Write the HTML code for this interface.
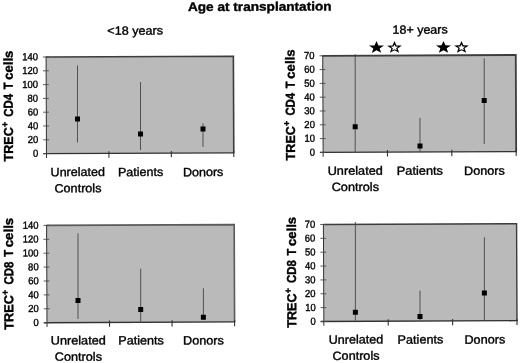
<!DOCTYPE html>
<html><head><meta charset="utf-8"><title>Age at transplantation</title>
<style>
html,body{margin:0;padding:0;background:#fff;}
svg{display:block;}
text{font-family:"Liberation Sans",sans-serif;fill:#000;}
</style></head>
<body>
<svg width="520" height="363" viewBox="0 0 520 363">
<rect width="520" height="363" fill="#fff"/>
<defs><filter id="soft" x="-2%" y="-2%" width="104%" height="104%"><feGaussianBlur stdDeviation="0.32"/></filter></defs>
<g filter="url(#soft)"><g transform="rotate(-0.24 260 181)">
<text x="188.71" y="10.80" font-size="12.4" font-weight="bold" textLength="143.6" lengthAdjust="spacingAndGlyphs" stroke="#000" stroke-width="0.38">Age at transplantation</text>
<text x="107.91" y="34.16" font-size="12" textLength="55.7" lengthAdjust="spacingAndGlyphs" stroke="#000" stroke-width="0.38">&lt;18 years</text>
<text x="393.12" y="34.36" font-size="12" textLength="55.2" lengthAdjust="spacingAndGlyphs" stroke="#000" stroke-width="0.38">18+ years</text>
<rect x="46.6" y="56.1" width="187.30" height="96.60" fill="#bababa"/>
<path d="M46.6 56.1H233.9V152.7" fill="none" stroke="#3c3c3c" stroke-width="1.6"/>
<path d="M46.6 55.6V157.0" fill="none" stroke="#333" stroke-width="1.0"/>
<path d="M43.4 152.7H234.5" fill="none" stroke="#303030" stroke-width="1.35"/>
<path d="M43.4 152.70H49.2" stroke="#4a4a4a" stroke-width="0.9" fill="none"/>
<text x="33.23" y="155.91" font-size="10.2" textLength="5.27" lengthAdjust="spacingAndGlyphs" stroke="#000" stroke-width="0.38">0</text>
<path d="M43.4 138.90H49.2" stroke="#4a4a4a" stroke-width="0.9" fill="none"/>
<text x="27.95" y="142.11" font-size="10.2" textLength="10.55" lengthAdjust="spacingAndGlyphs" stroke="#000" stroke-width="0.38">20</text>
<path d="M43.4 125.10H49.2" stroke="#4a4a4a" stroke-width="0.9" fill="none"/>
<text x="27.95" y="128.31" font-size="10.2" textLength="10.55" lengthAdjust="spacingAndGlyphs" stroke="#000" stroke-width="0.38">40</text>
<path d="M43.4 111.30H49.2" stroke="#4a4a4a" stroke-width="0.9" fill="none"/>
<text x="27.95" y="114.51" font-size="10.2" textLength="10.55" lengthAdjust="spacingAndGlyphs" stroke="#000" stroke-width="0.38">60</text>
<path d="M43.4 97.50H49.2" stroke="#4a4a4a" stroke-width="0.9" fill="none"/>
<text x="27.95" y="100.71" font-size="10.2" textLength="10.55" lengthAdjust="spacingAndGlyphs" stroke="#000" stroke-width="0.38">80</text>
<path d="M43.4 83.70H49.2" stroke="#4a4a4a" stroke-width="0.9" fill="none"/>
<text x="22.68" y="86.91" font-size="10.2" textLength="15.82" lengthAdjust="spacingAndGlyphs" stroke="#000" stroke-width="0.38">100</text>
<path d="M43.4 69.90H49.2" stroke="#4a4a4a" stroke-width="0.9" fill="none"/>
<text x="22.68" y="73.11" font-size="10.2" textLength="15.82" lengthAdjust="spacingAndGlyphs" stroke="#000" stroke-width="0.38">120</text>
<path d="M43.4 56.10H49.2" stroke="#4a4a4a" stroke-width="0.9" fill="none"/>
<text x="22.68" y="59.31" font-size="10.2" textLength="15.82" lengthAdjust="spacingAndGlyphs" stroke="#000" stroke-width="0.38">140</text>
<path d="M109.03 150.7V157.0" stroke="#303030" stroke-width="1.1" fill="none"/>
<path d="M171.47 150.7V157.0" stroke="#303030" stroke-width="1.1" fill="none"/>
<path d="M233.90 150.7V157.0" stroke="#303030" stroke-width="1.1" fill="none"/>
<g transform="translate(13.18 160.47) rotate(-90)" font-weight="bold" stroke="#000" stroke-width="0.4"><text x="0.00" y="0" font-size="13.0" textLength="34.3" lengthAdjust="spacingAndGlyphs">TREC</text><text x="34.50" y="-5.0" font-size="9.4" textLength="5.1" lengthAdjust="spacingAndGlyphs">+</text><text x="44.80" y="0" font-size="13.0" textLength="22.8" lengthAdjust="spacingAndGlyphs">CD4</text><text x="72.20" y="0" font-size="13.0" textLength="6.8" lengthAdjust="spacingAndGlyphs">T</text><text x="81.70" y="0" font-size="13.0" textLength="29.2" lengthAdjust="spacingAndGlyphs">cells</text></g>
<path d="M77.99 64.74L77.66 141.74" stroke="#454545" stroke-width="0.9" fill="none"/>
<rect x="75.26" y="115.74" width="5" height="5" fill="#000"/>
<path d="M140.92 81.50L140.63 149.50" stroke="#454545" stroke-width="0.9" fill="none"/>
<rect x="138.20" y="131.00" width="5" height="5" fill="#000"/>
<path d="M203.24 123.06L203.14 146.76" stroke="#454545" stroke-width="0.9" fill="none"/>
<rect x="200.72" y="126.16" width="5" height="5" fill="#000"/>
<text x="50.62" y="175.32" font-size="12" textLength="54.4" lengthAdjust="spacingAndGlyphs" stroke="#000" stroke-width="0.38">Unrelated</text>
<text x="54.45" y="191.54" font-size="12" textLength="47.0" lengthAdjust="spacingAndGlyphs" stroke="#000" stroke-width="0.38">Controls</text>
<text x="117.92" y="175.60" font-size="12" textLength="45.4" lengthAdjust="spacingAndGlyphs" stroke="#000" stroke-width="0.38">Patients</text>
<text x="182.92" y="175.88" font-size="12" textLength="40.5" lengthAdjust="spacingAndGlyphs" stroke="#000" stroke-width="0.38">Donors</text>
<rect x="323.25" y="56.05" width="193.05" height="96.60" fill="#bababa"/>
<path d="M323.25 56.05H516.3V152.65" fill="none" stroke="#3c3c3c" stroke-width="1.8"/>
<path d="M323.25 55.55V156.95000000000002" fill="none" stroke="#333" stroke-width="1.0"/>
<path d="M320.05 152.65H516.9" fill="none" stroke="#303030" stroke-width="1.35"/>
<path d="M320.05 152.65H325.85" stroke="#4a4a4a" stroke-width="0.9" fill="none"/>
<text x="309.88" y="155.86" font-size="10.2" textLength="5.27" lengthAdjust="spacingAndGlyphs" stroke="#000" stroke-width="0.38">0</text>
<path d="M320.05 138.85H325.85" stroke="#4a4a4a" stroke-width="0.9" fill="none"/>
<text x="304.60" y="142.06" font-size="10.2" textLength="10.55" lengthAdjust="spacingAndGlyphs" stroke="#000" stroke-width="0.38">10</text>
<path d="M320.05 125.05H325.85" stroke="#4a4a4a" stroke-width="0.9" fill="none"/>
<text x="304.60" y="128.26" font-size="10.2" textLength="10.55" lengthAdjust="spacingAndGlyphs" stroke="#000" stroke-width="0.38">20</text>
<path d="M320.05 111.25H325.85" stroke="#4a4a4a" stroke-width="0.9" fill="none"/>
<text x="304.60" y="114.46" font-size="10.2" textLength="10.55" lengthAdjust="spacingAndGlyphs" stroke="#000" stroke-width="0.38">30</text>
<path d="M320.05 97.45H325.85" stroke="#4a4a4a" stroke-width="0.9" fill="none"/>
<text x="304.60" y="100.66" font-size="10.2" textLength="10.55" lengthAdjust="spacingAndGlyphs" stroke="#000" stroke-width="0.38">40</text>
<path d="M320.05 83.65H325.85" stroke="#4a4a4a" stroke-width="0.9" fill="none"/>
<text x="304.60" y="86.86" font-size="10.2" textLength="10.55" lengthAdjust="spacingAndGlyphs" stroke="#000" stroke-width="0.38">50</text>
<path d="M320.05 69.85H325.85" stroke="#4a4a4a" stroke-width="0.9" fill="none"/>
<text x="304.60" y="73.06" font-size="10.2" textLength="10.55" lengthAdjust="spacingAndGlyphs" stroke="#000" stroke-width="0.38">60</text>
<path d="M320.05 56.05H325.85" stroke="#4a4a4a" stroke-width="0.9" fill="none"/>
<text x="304.60" y="59.26" font-size="10.2" textLength="10.55" lengthAdjust="spacingAndGlyphs" stroke="#000" stroke-width="0.38">70</text>
<path d="M387.60 150.65V156.95000000000002" stroke="#303030" stroke-width="1.1" fill="none"/>
<path d="M451.95 150.65V156.95000000000002" stroke="#303030" stroke-width="1.1" fill="none"/>
<path d="M516.30 150.65V156.95000000000002" stroke="#303030" stroke-width="1.1" fill="none"/>
<g transform="translate(295.09 160.55) rotate(-90)" font-weight="bold" stroke="#000" stroke-width="0.4"><text x="0.00" y="0" font-size="13.0" textLength="34.3" lengthAdjust="spacingAndGlyphs">TREC</text><text x="34.50" y="-5.0" font-size="9.4" textLength="5.1" lengthAdjust="spacingAndGlyphs">+</text><text x="44.80" y="0" font-size="13.0" textLength="22.8" lengthAdjust="spacingAndGlyphs">CD4</text><text x="72.20" y="0" font-size="13.0" textLength="6.8" lengthAdjust="spacingAndGlyphs">T</text><text x="81.70" y="0" font-size="13.0" textLength="29.2" lengthAdjust="spacingAndGlyphs">cells</text></g>
<path d="M355.73 54.60L355.32 152.40" stroke="#454545" stroke-width="0.9" fill="none"/>
<rect x="352.93" y="124.60" width="5" height="5" fill="#000"/>
<path d="M420.26 118.67L420.12 152.67" stroke="#454545" stroke-width="0.9" fill="none"/>
<rect x="417.65" y="144.17" width="5" height="5" fill="#000"/>
<path d="M484.71 59.24L484.35 144.94" stroke="#454545" stroke-width="0.9" fill="none"/>
<rect x="482.03" y="99.04" width="5" height="5" fill="#000"/>
<text x="327.72" y="175.18" font-size="12" textLength="55.1" lengthAdjust="spacingAndGlyphs" stroke="#000" stroke-width="0.38">Unrelated</text>
<text x="331.66" y="191.40" font-size="12" textLength="47.3" lengthAdjust="spacingAndGlyphs" stroke="#000" stroke-width="0.38">Controls</text>
<text x="396.82" y="175.47" font-size="12" textLength="46.2" lengthAdjust="spacingAndGlyphs" stroke="#000" stroke-width="0.38">Patients</text>
<text x="464.02" y="175.75" font-size="12" textLength="40.8" lengthAdjust="spacingAndGlyphs" stroke="#000" stroke-width="0.38">Donors</text>
<rect x="46.4" y="224.5" width="187.60" height="97.30" fill="#bababa"/>
<path d="M46.4 224.5H234.0V321.8" fill="none" stroke="#5a5a5a" stroke-width="1.6"/>
<path d="M46.4 224.0V326.1" fill="none" stroke="#333" stroke-width="1.0"/>
<path d="M43.199999999999996 321.8H234.6" fill="none" stroke="#303030" stroke-width="1.35"/>
<path d="M43.199999999999996 321.80H49.0" stroke="#4a4a4a" stroke-width="0.9" fill="none"/>
<text x="33.03" y="325.01" font-size="10.2" textLength="5.27" lengthAdjust="spacingAndGlyphs" stroke="#000" stroke-width="0.38">0</text>
<path d="M43.199999999999996 307.90H49.0" stroke="#4a4a4a" stroke-width="0.9" fill="none"/>
<text x="27.75" y="311.11" font-size="10.2" textLength="10.55" lengthAdjust="spacingAndGlyphs" stroke="#000" stroke-width="0.38">20</text>
<path d="M43.199999999999996 294.00H49.0" stroke="#4a4a4a" stroke-width="0.9" fill="none"/>
<text x="27.75" y="297.21" font-size="10.2" textLength="10.55" lengthAdjust="spacingAndGlyphs" stroke="#000" stroke-width="0.38">40</text>
<path d="M43.199999999999996 280.10H49.0" stroke="#4a4a4a" stroke-width="0.9" fill="none"/>
<text x="27.75" y="283.31" font-size="10.2" textLength="10.55" lengthAdjust="spacingAndGlyphs" stroke="#000" stroke-width="0.38">60</text>
<path d="M43.199999999999996 266.20H49.0" stroke="#4a4a4a" stroke-width="0.9" fill="none"/>
<text x="27.75" y="269.41" font-size="10.2" textLength="10.55" lengthAdjust="spacingAndGlyphs" stroke="#000" stroke-width="0.38">80</text>
<path d="M43.199999999999996 252.30H49.0" stroke="#4a4a4a" stroke-width="0.9" fill="none"/>
<text x="22.48" y="255.51" font-size="10.2" textLength="15.82" lengthAdjust="spacingAndGlyphs" stroke="#000" stroke-width="0.38">100</text>
<path d="M43.199999999999996 238.40H49.0" stroke="#4a4a4a" stroke-width="0.9" fill="none"/>
<text x="22.48" y="241.61" font-size="10.2" textLength="15.82" lengthAdjust="spacingAndGlyphs" stroke="#000" stroke-width="0.38">120</text>
<path d="M43.199999999999996 224.50H49.0" stroke="#4a4a4a" stroke-width="0.9" fill="none"/>
<text x="22.48" y="227.71" font-size="10.2" textLength="15.82" lengthAdjust="spacingAndGlyphs" stroke="#000" stroke-width="0.38">140</text>
<path d="M108.93 319.8V326.1" stroke="#303030" stroke-width="1.1" fill="none"/>
<path d="M171.47 319.8V326.1" stroke="#303030" stroke-width="1.1" fill="none"/>
<path d="M234.00 319.8V326.1" stroke="#303030" stroke-width="1.1" fill="none"/>
<g transform="translate(12.78 328.67) rotate(-90)" font-weight="bold" stroke="#000" stroke-width="0.4"><text x="0.00" y="0" font-size="13.0" textLength="34.6" lengthAdjust="spacingAndGlyphs">TREC</text><text x="34.81" y="-5.0" font-size="9.4" textLength="5.1" lengthAdjust="spacingAndGlyphs">+</text><text x="45.20" y="0" font-size="13.0" textLength="23.0" lengthAdjust="spacingAndGlyphs">CD8</text><text x="72.85" y="0" font-size="13.0" textLength="6.9" lengthAdjust="spacingAndGlyphs">T</text><text x="82.44" y="0" font-size="13.0" textLength="29.5" lengthAdjust="spacingAndGlyphs">cells</text></g>
<path d="M77.78 232.54L77.42 318.24" stroke="#454545" stroke-width="0.9" fill="none"/>
<rect x="75.00" y="297.24" width="5" height="5" fill="#000"/>
<path d="M140.33 268.30L140.11 321.20" stroke="#454545" stroke-width="0.9" fill="none"/>
<rect x="137.66" y="306.50" width="5" height="5" fill="#000"/>
<path d="M202.95 288.06L202.82 319.26" stroke="#454545" stroke-width="0.9" fill="none"/>
<rect x="200.33" y="314.56" width="5" height="5" fill="#000"/>
<text x="50.02" y="343.72" font-size="12" textLength="55.1" lengthAdjust="spacingAndGlyphs" stroke="#000" stroke-width="0.38">Unrelated</text>
<text x="54.05" y="359.94" font-size="12" textLength="47.2" lengthAdjust="spacingAndGlyphs" stroke="#000" stroke-width="0.38">Controls</text>
<text x="117.62" y="344.01" font-size="12" textLength="45.5" lengthAdjust="spacingAndGlyphs" stroke="#000" stroke-width="0.38">Patients</text>
<text x="182.42" y="344.28" font-size="12" textLength="40.8" lengthAdjust="spacingAndGlyphs" stroke="#000" stroke-width="0.38">Donors</text>
<rect x="323.25" y="224.75" width="193.15" height="97.00" fill="#bababa"/>
<path d="M323.25 224.75H516.4V321.75" fill="none" stroke="#3c3c3c" stroke-width="1.4"/>
<path d="M323.25 224.25V326.05" fill="none" stroke="#333" stroke-width="1.0"/>
<path d="M320.05 321.75H517.0" fill="none" stroke="#303030" stroke-width="1.35"/>
<path d="M320.05 321.75H325.85" stroke="#4a4a4a" stroke-width="0.9" fill="none"/>
<text x="309.88" y="324.96" font-size="10.2" textLength="5.27" lengthAdjust="spacingAndGlyphs" stroke="#000" stroke-width="0.38">0</text>
<path d="M320.05 307.89H325.85" stroke="#4a4a4a" stroke-width="0.9" fill="none"/>
<text x="304.60" y="311.11" font-size="10.2" textLength="10.55" lengthAdjust="spacingAndGlyphs" stroke="#000" stroke-width="0.38">10</text>
<path d="M320.05 294.04H325.85" stroke="#4a4a4a" stroke-width="0.9" fill="none"/>
<text x="304.60" y="297.25" font-size="10.2" textLength="10.55" lengthAdjust="spacingAndGlyphs" stroke="#000" stroke-width="0.38">20</text>
<path d="M320.05 280.18H325.85" stroke="#4a4a4a" stroke-width="0.9" fill="none"/>
<text x="304.60" y="283.39" font-size="10.2" textLength="10.55" lengthAdjust="spacingAndGlyphs" stroke="#000" stroke-width="0.38">30</text>
<path d="M320.05 266.32H325.85" stroke="#4a4a4a" stroke-width="0.9" fill="none"/>
<text x="304.60" y="269.53" font-size="10.2" textLength="10.55" lengthAdjust="spacingAndGlyphs" stroke="#000" stroke-width="0.38">40</text>
<path d="M320.05 252.46H325.85" stroke="#4a4a4a" stroke-width="0.9" fill="none"/>
<text x="304.60" y="255.68" font-size="10.2" textLength="10.55" lengthAdjust="spacingAndGlyphs" stroke="#000" stroke-width="0.38">50</text>
<path d="M320.05 238.61H325.85" stroke="#4a4a4a" stroke-width="0.9" fill="none"/>
<text x="304.60" y="241.82" font-size="10.2" textLength="10.55" lengthAdjust="spacingAndGlyphs" stroke="#000" stroke-width="0.38">60</text>
<path d="M320.05 224.75H325.85" stroke="#4a4a4a" stroke-width="0.9" fill="none"/>
<text x="304.60" y="227.96" font-size="10.2" textLength="10.55" lengthAdjust="spacingAndGlyphs" stroke="#000" stroke-width="0.38">70</text>
<path d="M387.63 319.75V326.05" stroke="#303030" stroke-width="1.1" fill="none"/>
<path d="M452.02 319.75V326.05" stroke="#303030" stroke-width="1.1" fill="none"/>
<path d="M516.40 319.75V326.05" stroke="#303030" stroke-width="1.1" fill="none"/>
<g transform="translate(295.68 327.95) rotate(-90)" font-weight="bold" stroke="#000" stroke-width="0.4"><text x="0.00" y="0" font-size="13.0" textLength="34.3" lengthAdjust="spacingAndGlyphs">TREC</text><text x="34.50" y="-5.0" font-size="9.4" textLength="5.1" lengthAdjust="spacingAndGlyphs">+</text><text x="44.80" y="0" font-size="13.0" textLength="22.8" lengthAdjust="spacingAndGlyphs">CD8</text><text x="72.20" y="0" font-size="13.0" textLength="6.8" lengthAdjust="spacingAndGlyphs">T</text><text x="81.70" y="0" font-size="13.0" textLength="29.2" lengthAdjust="spacingAndGlyphs">cells</text></g>
<path d="M355.23 222.40L354.81 320.90" stroke="#454545" stroke-width="0.9" fill="none"/>
<rect x="352.35" y="310.10" width="5" height="5" fill="#000"/>
<path d="M419.54 291.27L419.42 320.67" stroke="#454545" stroke-width="0.9" fill="none"/>
<rect x="416.93" y="314.67" width="5" height="5" fill="#000"/>
<path d="M484.16 238.14L483.81 321.34" stroke="#454545" stroke-width="0.9" fill="none"/>
<rect x="481.43" y="291.44" width="5" height="5" fill="#000"/>
<text x="328.02" y="343.99" font-size="12" textLength="54.5" lengthAdjust="spacingAndGlyphs" stroke="#000" stroke-width="0.38">Unrelated</text>
<text x="331.75" y="360.20" font-size="12" textLength="47.0" lengthAdjust="spacingAndGlyphs" stroke="#000" stroke-width="0.38">Controls</text>
<text x="396.92" y="344.27" font-size="12" textLength="45.7" lengthAdjust="spacingAndGlyphs" stroke="#000" stroke-width="0.38">Patients</text>
<text x="463.82" y="344.56" font-size="12" textLength="40.7" lengthAdjust="spacingAndGlyphs" stroke="#000" stroke-width="0.38">Donors</text>
<polygon points="377.06,41.59 379.01,45.88 384.57,46.08 380.21,48.93 381.70,53.35 377.06,50.82 372.41,53.35 373.90,48.93 369.54,46.08 375.11,45.88" fill="#000"/>
<polygon points="395.06,41.66 396.98,45.96 402.48,46.16 398.17,49.01 399.64,53.42 395.06,50.89 390.47,53.42 391.94,49.01 387.64,46.16 393.13,45.96" fill="#000"/><polygon points="395.06,45.06 396.11,47.11 398.77,47.31 396.76,48.78 397.35,50.94 395.06,49.81 392.77,50.94 393.35,48.78 391.35,47.31 394.00,47.11" fill="#fff"/>
<polygon points="444.06,41.77 446.01,46.06 451.57,46.26 447.21,49.11 448.70,53.53 444.06,51.00 439.41,53.53 440.90,49.11 436.54,46.26 442.11,46.06" fill="#000"/>
<polygon points="462.06,41.85 463.98,46.14 469.48,46.34 465.17,49.19 466.64,53.60 462.06,51.08 457.47,53.60 458.94,49.19 454.64,46.34 460.13,46.14" fill="#000"/><polygon points="462.06,45.25 463.11,47.29 465.77,47.49 463.76,48.96 464.35,51.12 462.06,49.99 459.77,51.12 460.35,48.96 458.35,47.49 461.00,47.29" fill="#fff"/>
</g></g>
</svg>
</body></html>
